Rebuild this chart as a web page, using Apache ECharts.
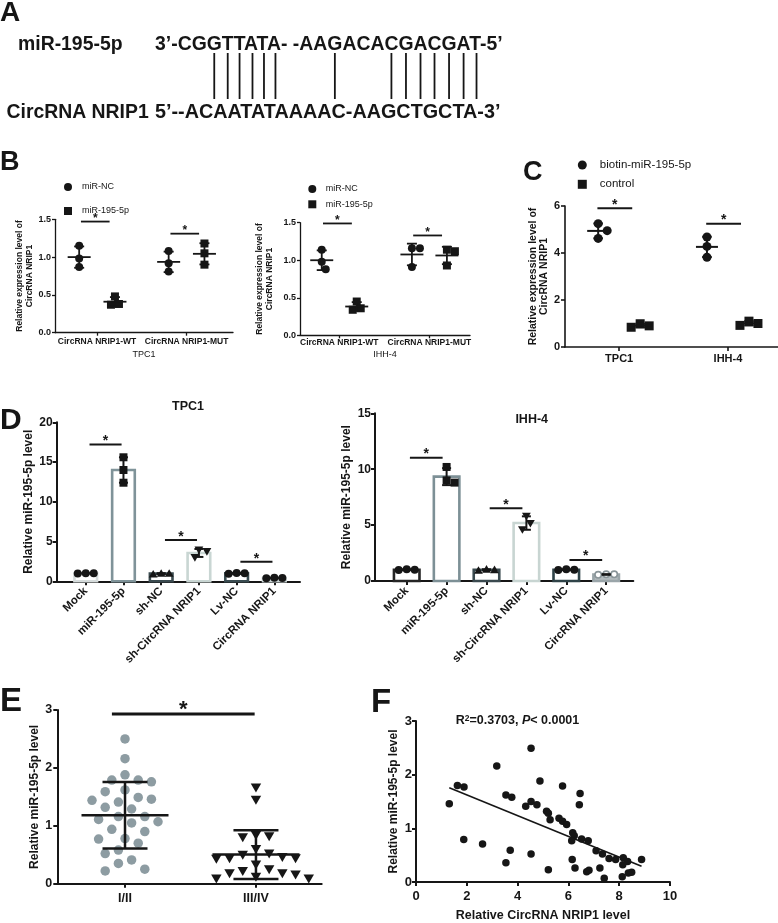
<!DOCTYPE html>
<html><head><meta charset="utf-8">
<script src="https://cdn.jsdelivr.net/npm/echarts@6/dist/echarts.min.js"></script>
<style>html,body{margin:0;padding:0;background:#fff}#c{width:778px;height:923px}</style>
</head><body><div id="c"></div>
<script>
// ================= DATA =================
// Panel A
const aMiRLabel = 'miR-195-5p';
const aCircLabel = 'CircRNA NRIP1';
const aMiR = '3’-CGGTTATA- -AAGACACGACGAT-5’';
const aCirc = '5’--ACAATATAAAAC-AAGCTGCTA-3’';
const aPairIdx = [5, 6, 7, 8, 9, 10, 16, 20, 21, 22, 23, 24, 25, 26];

// Panel B
const bCats = ['CircRNA NRIP1-WT', 'CircRNA NRIP1-MUT'];
const bSeries = ['miR-NC', 'miR-195-5p'];
const bTpcNC = [[1.15, 0.98, 0.87], [1.08, 0.92, 0.81]];
const bTpcMiR = [[0.48, 0.38, 0.37], [1.18, 1.05, 0.90]];
const bTpcSig = [1.47, 1.31];
const bIhhNC = [[1.14, 0.98, 0.88], [1.16, 1.16, 0.91]];
const bIhhMiR = [[0.45, 0.36, 0.34], [1.14, 1.12, 0.93]];
const bIhhSig = [1.49, 1.33];

// Panel C
const cCats = ['TPC1', 'IHH-4'];
const cSeries = ['biotin-miR-195-5p', 'control'];
const cBiotin = [[5.25, 4.95, 4.62], [4.68, 4.28, 3.82]];
const cControl = [[0.99, 0.90, 0.84], [1.10, 1.00, 0.92]];
const cSig = [5.9, 5.25];

// Panel D
const dCats = ['Mock', 'miR-195-5p', 'sh-NC', 'sh-CircRNA NRIP1', 'Lv-NC', 'CircRNA NRIP1'];
const dTpc = [[1.02, 0.98, 1.0], [15.6, 14.0, 12.4], [1.0, 0.9, 1.0], [3.95, 3.75, 3.0], [1.05, 1.0, 0.95], [0.45, 0.40, 0.38]];
const dTpcSig = [17.2, 5.2, 2.47];
const dIhh = [[1.05, 0.98, 1.0], [10.2, 9.0, 8.8], [1.0, 0.95, 1.05], [5.8, 5.15, 4.6], [1.05, 1.0, 0.98], [0.6, 0.6, 0.55]];
const dIhhSig = [11.03, 6.5, 1.88];
const dSigPairs = [[0, 1], [2, 3], [4, 5]];

// Panel E
const eCats = ['I/II', 'III/IV'];
const eStageI = [2.50, 2.16, 1.88, 1.79, 1.79, 1.76, 1.62, 1.59, 1.49, 1.46, 1.44, 1.41, 1.32, 1.29, 1.16, 1.16, 1.11, 1.07, 1.05, 0.94, 0.90, 0.78, 0.77, 0.70, 0.58, 0.52, 0.41, 0.35, 0.25, 0.22];
const eStageIII = [1.66, 1.45, 0.84, 0.82, 0.80, 0.60, 0.52, 0.50, 0.46, 0.44, 0.44, 0.43, 0.33, 0.25, 0.22, 0.18, 0.18, 0.16, 0.12, 0.09, 0.09];
const eSig = [2.93];

// Panel F
const fCirc = [1.31, 1.63, 1.89, 1.88, 2.62, 3.18, 3.54, 3.77, 3.54, 3.71, 4.32, 4.53, 4.53, 4.76, 4.88, 4.53, 5.14, 5.21, 5.28, 5.21, 5.77, 5.63, 5.77, 5.93, 6.46, 6.43, 6.17, 6.23, 6.13, 6.52, 6.78, 6.15, 6.26, 6.72, 6.81, 7.09, 7.34, 7.60, 7.86, 7.24, 7.41, 8.16, 8.33, 8.14, 8.12, 8.36, 8.49, 8.88];
const fMiR = [1.46, 1.80, 1.77, 0.79, 0.71, 2.16, 1.62, 1.58, 0.36, 0.59, 1.41, 1.50, 2.49, 1.44, 1.88, 0.52, 1.32, 1.28, 1.16, 0.23, 1.79, 1.19, 1.13, 1.07, 1.65, 1.44, 0.92, 0.86, 0.77, 0.80, 0.77, 0.42, 0.26, 0.19, 0.22, 0.58, 0.52, 0.44, 0.42, 0.26, 0.07, 0.45, 0.38, 0.32, 0.10, 0.17, 0.18, 0.42];

// ================= HELPERS =================
const FONT = 'Liberation Sans';
const INK = '#161616';
const mean = a => a.reduce((s, v) => s + v, 0) / a.length;
const sd = a => { const m = mean(a); return Math.sqrt(a.reduce((s, v) => s + (v - m) * (v - m), 0) / (a.length - 1)); };

function swarm(pix, collide, step) {
  const order = pix.map((p, i) => i).sort((a, b) => pix[a][1] - pix[b][1]);
  const placed = [], out = pix.map(p => p.slice());
  for (const i of order) {
    const [x, y] = pix[i];
    for (let k = 0; k < 400; k++) {
      const off = k === 0 ? 0 : (k % 2 ? 1 : -1) * Math.ceil(k / 2) * step;
      const cx = x + off;
      if (placed.every(([px, py]) => Math.hypot(px - cx, py - y) >= collide)) {
        out[i] = [cx, y]; placed.push([cx, y]); break;
      }
    }
  }
  return out;
}
function marker(shape, x, y, d, color) {
  const r = d / 2;
  switch (shape) {
    case 'circle': return { type: 'circle', shape: { cx: x, cy: y, r }, style: { fill: color } };
    case 'ring': return { type: 'circle', shape: { cx: x, cy: y, r: r - 0.8 }, style: { fill: '#fff', stroke: color, lineWidth: 1.6 } };
    case 'square': return { type: 'rect', shape: { x: x - r, y: y - r, width: d, height: d }, style: { fill: color } };
    case 'tri': return { type: 'polygon', shape: { points: [[x, y - r * 1.05], [x + r * 1.1, y + r * 0.85], [x - r * 1.1, y + r * 0.85]] }, style: { fill: color } };
    case 'tridown': return { type: 'polygon', shape: { points: [[x, y + r * 1.05], [x + r * 1.1, y - r * 0.85], [x - r * 1.1, y - r * 0.85]] }, style: { fill: color } };
  }
}
const seg = (x1, y1, x2, y2, w, c) => ({ type: 'line', shape: { x1, y1, x2, y2 }, style: { stroke: c || INK, lineWidth: w } });

function errBar(api, x, pts, o) {
  const m = mean(pts), s = sd(pts), ch = [];
  const c = api.coord([x, m]), t = api.coord([x, m + s]), b = api.coord([x, Math.max(0, m - s)]);
  if (o.meanW) ch.push(seg(c[0] - o.meanW / 2, c[1], c[0] + o.meanW / 2, c[1], o.lw));
  ch.push(seg(t[0], t[1], b[0], b[1], o.lw));
  ch.push(seg(t[0] - o.capW / 2, t[1], t[0] + o.capW / 2, t[1], o.lw));
  ch.push(seg(b[0] - o.capW / 2, b[1], b[0] + o.capW / 2, b[1], o.lw));
  return ch;
}

function dotSeries(o) {
  return {
    type: 'custom', name: o.name, xAxisIndex: o.gi, yAxisIndex: o.gi, z: 3,
    itemStyle: { color: INK },
    data: o.groups.map((p, i) => [i + o.off, mean(p)]), encode: { x: 0, y: 1 },
    renderItem: (params, api) => {
      const pts = o.groups[params.dataIndex], x = api.value(0);
      const pix = swarm(pts.map(v => api.coord([x, v])), o.d * 0.95, o.d / 2);
      const ch = pix.map(p => marker(o.shape, p[0], p[1], o.d, INK));
      return { type: 'group', children: ch.concat(errBar(api, x, pts, o)) };
    }
  };
}
function barSeries(o) {
  return {
    type: 'custom', xAxisIndex: o.gi, yAxisIndex: o.gi, z: 3,
    data: o.groups.map((p, i) => [i, mean(p)]), encode: { x: 0, y: 1 },
    renderItem: (params, api) => {
      const i = params.dataIndex, pts = o.groups[i], m = mean(pts);
      const tl = api.coord([i - o.w / 2, m]), br = api.coord([i + o.w / 2, 0]);
      const ch = [{ type: 'rect', shape: { x: tl[0], y: tl[1], width: br[0] - tl[0], height: br[1] - tl[1] },
        style: { fill: o.fills[i], stroke: o.strokes[i], lineWidth: o.blw } }];
      const pix = swarm(pts.map(v => api.coord([i, v])), o.d * 0.95, o.d / 2);
      pix.forEach(p => ch.push(marker(o.shapes[i], p[0], p[1], o.d, o.pcols[i])));
      return { type: 'group', children: ch.concat(errBar(api, i, pts, o)) };
    }
  };
}
function swarmSeries(o) {
  return {
    type: 'custom', xAxisIndex: o.gi, yAxisIndex: o.gi, z: 3,
    data: o.groups.map((p, i) => [i, mean(p)]), encode: { x: 0, y: 1 },
    renderItem: (params, api) => {
      const i = params.dataIndex, pts = o.groups[i];
      const pix = swarm(pts.map(v => api.coord([i, v])), o.collide[i], o.step);
      const ch = pix.map(p => marker(o.shapes[i], p[0], p[1], o.d, o.colors[i]));
      return { type: 'group', children: ch.concat(errBar(api, i, pts, o)) };
    }
  };
}
function sigSeries(o) {
  return {
    type: 'custom', xAxisIndex: o.gi, yAxisIndex: o.gi, z: 4, silent: true,
    data: o.ys.map((y, i) => [o.spans[i][0], o.spans[i][1], y]), encode: { x: [0, 1], y: 2 },
    renderItem: (params, api) => {
      const a = api.coord([api.value(0), api.value(2)]), b = api.coord([api.value(1), api.value(2)]);
      return { type: 'group', children: [seg(a[0], a[1], b[0], a[1], o.lw),
        { type: 'text', style: { text: '*', x: (a[0] + b[0]) / 2, y: a[1] - o.gap + 0.22 * o.fs, align: 'center', verticalAlign: 'middle',
          fontSize: o.fs, fontWeight: 'bold', fontFamily: FONT, fill: INK } }] };
    }
  };
}

function catX(gi, cats, min, max, o) {
  const idx = cats.map((_, i) => i);
  return {
    gridIndex: gi, type: 'value', min, max, splitLine: { show: false },
    axisLine: { show: true, onZero: false, lineStyle: { color: INK, width: o.aw } },
    axisTick: { show: true, customValues: idx, length: o.tl, lineStyle: { color: INK, width: o.aw } },
    axisLabel: { customValues: idx, formatter: v => cats[Math.round(v)] || '', color: INK, fontSize: o.fs, fontWeight: 'bold',
      fontFamily: FONT, margin: o.m, rotate: o.rot || 0, interval: 0 },
    name: o.name || '', nameLocation: 'middle', nameGap: o.ng || 0,
    nameTextStyle: { color: INK, fontSize: o.nfs || 9, fontFamily: FONT, fontWeight: o.nfw || 'normal' }
  };
}
function valY(gi, max, interval, o) {
  return {
    gridIndex: gi, type: 'value', min: 0, max, interval, splitLine: { show: false },
    axisLine: { show: true, onZero: false, lineStyle: { color: INK, width: o.aw } },
    axisTick: { show: true, length: o.tl, lineStyle: { color: INK, width: o.aw } },
    axisLabel: { color: INK, fontSize: o.fs, fontWeight: 'bold', fontFamily: FONT, margin: o.m, formatter: o.fmt },
    name: o.name, nameLocation: 'middle', nameRotate: 90, nameGap: o.ng,
    nameTextStyle: { color: INK, fontSize: o.nfs, fontWeight: 'bold', fontFamily: FONT, lineHeight: o.nlh, align: 'center' }
  };
}

// ================= PANEL A graphics =================
const aFontTop = 19.4, aFontBot = 19.8;
const mctx = document.createElement('canvas').getContext('2d');
mctx.font = 'bold ' + aFontTop + 'px "' + FONT + '"';
const seqX = 155;
function charCenter(str, i) { return seqX + mctx.measureText(str.slice(0, i)).width + mctx.measureText(str[i]).width / 2; }
const txt = (text, x, y, fs, extra) => Object.assign({ type: 'text', x, y, style: Object.assign({ text, fontSize: fs, fontWeight: 'bold', fontFamily: FONT, fill: INK, align: 'left', verticalAlign: 'middle' }, extra || {}) });
const graphics = [
  txt('A', 0, 13, 28), txt('B', 0, 162.5, 27), txt('C', 523, 172.5, 27), txt('D', 0, 421, 30), txt('E', 0, 701.5, 33), txt('F', 371, 702.5, 33),
  txt(aMiRLabel, 18, 45, 19.4), txt(aMiR, seqX, 45, aFontTop),
  txt(aCircLabel, 6.5, 113, 19.4), txt(aCirc, seqX, 113, aFontBot),
  txt('TPC1', 188, 407, 12.5, { align: 'center' }), txt('IHH-4', 531.7, 420, 12.5, { align: 'center' }),
  { type: 'text', x: 455.7, y: 721, style: { text: '{a|R}{s|2}{a|=0.3703, }{i|P}{a|< 0.0001}', verticalAlign: 'middle',
    rich: { a: { fontSize: 12.5, fontWeight: 'bold', fontFamily: FONT, fill: INK },
      s: { fontSize: 8.5, fontWeight: 'bold', fontFamily: FONT, fill: INK, verticalAlign: 'top', padding: [0, 0, 5, 0] },
      i: { fontSize: 12.5, fontWeight: 'bold', fontStyle: 'italic', fontFamily: FONT, fill: INK } } } }
];
aPairIdx.forEach(i => { const x = charCenter(aMiR, i); graphics.push({ type: 'line', shape: { x1: x, y1: 53, x2: x, y2: 99 }, style: { stroke: INK, lineWidth: 1.8 } }); });

// ================= PANEL F regression =================
const fmx = mean(fCirc), fmy = mean(fMiR);
let sxy = 0, sxx = 0;
fCirc.forEach((x, i) => { sxy += (x - fmx) * (fMiR[i] - fmy); sxx += (x - fmx) * (x - fmx); });
const fSlope = sxy / sxx, fInt = fmy - fSlope * fmx;
const fx0 = Math.min(...fCirc), fx1 = Math.max(...fCirc);

// ================= OPTION =================
const dTpcStroke = ['#d6dcdc', '#7f9399', '#3b4b50', '#c9d6d3', '#3a4c51', '#c9d3d3'];
const dTpcFill = ['#fff', '#fff', '#fff', '#fff', '#fff', '#fff'];
const dIhhStroke = ['#252525', '#7d9096', '#3a4a4f', '#c8d5d2', '#2f4348', '#9aa5a9'];
const dIhhFill = ['#fff', '#fff', '#fff', '#fff', '#fff', '#b3bbbe'];
const dShapes = ['circle', 'square', 'tri', 'tridown', 'circle', 'circle'];
const dIhhShapes = ['circle', 'square', 'tri', 'tridown', 'circle', 'ring'];
const dPcols = [INK, INK, INK, INK, INK, INK];
const dIhhPcols = [INK, INK, INK, INK, INK, '#8a9599'];

const legendBase = { orient: 'vertical', selectedMode: false, padding: 0 };
const option = {
  animation: false,
  grid: [
    { left: 55, top: 219.3, width: 178, height: 113.4 },
    { left: 300, top: 222.7, width: 170, height: 112.6 },
    { left: 565, top: 206, width: 213, height: 141 },
    { left: 56.7, top: 422.3, width: 243.3, height: 159 },
    { left: 375, top: 413.3, width: 258.3, height: 167.7 },
    { left: 57.3, top: 710, width: 264.4, height: 173.7 },
    { left: 416, top: 721, width: 254, height: 166.7 }
  ],
  xAxis: [
    catX(0, bCats, -0.47, 1.519, { aw: 1.3, tl: 3, fs: 8.5, m: 4, name: 'TPC1', ng: 17, nfs: 9 }),
    catX(1, bCats, -0.435, 1.45, { aw: 1.3, tl: 3, fs: 8.5, m: 3, name: 'IHH-4', ng: 15, nfs: 9 }),
    catX(2, cCats, -0.498, 1.46, { aw: 1.6, tl: 4, fs: 11, m: 6 }),
    catX(3, dCats, -0.77, 5.68, { aw: 2, tl: 4, fs: 11.5, m: 8, rot: 45 }),
    catX(4, dCats, -0.795, 5.68, { aw: 2, tl: 4, fs: 11.5, m: 8, rot: 45 }),
    catX(5, eCats, -0.517, 1.502, { aw: 2, tl: 4, fs: 12.5, m: 8 }),
    { gridIndex: 6, type: 'value', min: 0, max: 10, interval: 2, splitLine: { show: false },
      axisLine: { show: true, onZero: false, lineStyle: { color: INK, width: 2 } },
      axisTick: { show: true, length: 4, lineStyle: { color: INK, width: 2 } },
      axisLabel: { color: INK, fontSize: 13, fontWeight: 'bold', fontFamily: FONT, margin: 8 },
      name: 'Relative CircRNA NRIP1 level', nameLocation: 'middle', nameGap: 27,
      nameTextStyle: { color: INK, fontSize: 12.5, fontWeight: 'bold', fontFamily: FONT } }
  ],
  yAxis: [
    valY(0, 1.5, 0.5, { aw: 1.3, tl: 3, fs: 9, m: 4, fmt: v => v.toFixed(1), name: 'Relative expression level of\nCircRNA NRIP1', ng: 18, nfs: 8.5, nlh: 10 }),
    valY(1, 1.5, 0.5, { aw: 1.3, tl: 3, fs: 9, m: 4, fmt: v => v.toFixed(1), name: 'Relative expression level of\nCircRNA NRIP1', ng: 25, nfs: 8.5, nlh: 10 }),
    valY(2, 6, 2, { aw: 1.6, tl: 4, fs: 11, m: 5, name: 'Relative expression level of\nCircRNA NRIP1', ng: 16, nfs: 10.5, nlh: 10.5 }),
    valY(3, 20, 5, { aw: 2, tl: 4, fs: 12, m: 4, name: 'Relative miR-195-5p level', ng: 18, nfs: 12, nlh: 14 }),
    valY(4, 15, 5, { aw: 2, tl: 4, fs: 12, m: 4, name: 'Relative miR-195-5p level', ng: 19, nfs: 12, nlh: 14 }),
    valY(5, 3, 1, { aw: 2, tl: 4, fs: 12.5, m: 5, name: 'Relative miR-195-5p level', ng: 15, nfs: 12, nlh: 14 }),
    valY(6, 3, 1, { aw: 2, tl: 4, fs: 13, m: 4, name: 'Relative miR-195-5p level', ng: 15, nfs: 12, nlh: 14 })
  ],
  legend: [
    Object.assign({ left: 64, top: 182, itemWidth: 8, itemHeight: 8, itemGap: 14,
      data: [{ name: bSeries[0], icon: 'circle' }, { name: bSeries[1], icon: 'rect' }],
      textStyle: { fontSize: 9, lineHeight: 10, fontFamily: FONT, color: INK, padding: [0, 0, 0, 5] } }, legendBase),
    Object.assign({ left: 308.3, top: 184, itemWidth: 8, itemHeight: 8, itemGap: 5.3,
      data: [{ name: bSeries[0], icon: 'circle' }, { name: bSeries[1], icon: 'rect' }],
      textStyle: { fontSize: 9, lineHeight: 10, fontFamily: FONT, color: INK, padding: [0, 0, 0, 4.4] } }, legendBase),
    Object.assign({ left: 577.8, top: 159, itemWidth: 9, itemHeight: 9, itemGap: 7.3,
      data: [{ name: cSeries[0], icon: 'circle' }, { name: cSeries[1], icon: 'rect' }],
      textStyle: { fontSize: 11.5, lineHeight: 12, fontFamily: FONT, color: INK, padding: [0, 0, 0, 8] } }, legendBase)
  ],
  graphic: { elements: graphics },
  series: [
    dotSeries({ name: bSeries[0], gi: 0, groups: bTpcNC, off: -0.2, shape: 'circle', d: 8, capW: 10, meanW: 23, lw: 1.8 }),
    dotSeries({ name: bSeries[1], gi: 0, groups: bTpcMiR, off: 0.2, shape: 'square', d: 8, capW: 10, meanW: 23, lw: 1.8 }),
    sigSeries({ gi: 0, ys: bTpcSig, spans: bTpcSig.map((_, i) => [i - 0.18, i + 0.14]), lw: 1.8, fs: 12, gap: 5.5 }),
    dotSeries({ name: bSeries[0], gi: 1, groups: bIhhNC, off: -0.194, shape: 'circle', d: 8, capW: 10, meanW: 23, lw: 1.8 }),
    dotSeries({ name: bSeries[1], gi: 1, groups: bIhhMiR, off: 0.194, shape: 'square', d: 8, capW: 10, meanW: 23, lw: 1.8 }),
    sigSeries({ gi: 1, ys: bIhhSig, spans: bIhhSig.map((_, i) => [i - 0.18, i + 0.14]), lw: 1.8, fs: 12, gap: 5.3 }),
    dotSeries({ name: cSeries[0], gi: 2, groups: cBiotin, off: -0.193, shape: 'circle', d: 9, capW: 9.5, meanW: 22, lw: 2 }),
    dotSeries({ name: cSeries[1], gi: 2, groups: cControl, off: 0.193, shape: 'square', d: 9, capW: 9.5, meanW: 22, lw: 2 }),
    sigSeries({ gi: 2, ys: cSig, spans: cSig.map((_, i) => [i - 0.2, i + 0.12]), lw: 2, fs: 14, gap: 6.6 }),
    barSeries({ gi: 3, groups: dTpc, w: 0.6, strokes: dTpcStroke, fills: dTpcFill, shapes: dShapes, pcols: dPcols, d: 8, capW: 9, lw: 2, blw: 2.6 }),
    sigSeries({ gi: 3, ys: dTpcSig, spans: dSigPairs.map(p => [p[0] + 0.1, p[1] - 0.05]), lw: 2, fs: 14, gap: 6 }),
    barSeries({ gi: 4, groups: dIhh, w: 0.64, strokes: dIhhStroke, fills: dIhhFill, shapes: dIhhShapes, pcols: dIhhPcols, d: 8, capW: 9, lw: 2, blw: 2.6 }),
    sigSeries({ gi: 4, ys: dIhhSig, spans: dSigPairs.map(p => [p[0] + 0.08, p[1] - 0.1]), lw: 2, fs: 14, gap: 6.5 }),
    swarmSeries({ gi: 5, groups: [eStageI, eStageIII], shapes: ['circle', 'tridown'], colors: ['#8d9ca2', INK], d: 9.5, collide: [13, 10.5], step: 6.6, capW: 45, meanW: 87, lw: 2.5 }),
    sigSeries({ gi: 5, ys: eSig, spans: [[-0.1, 0.99]], lw: 3, fs: 22, gap: 9.3 }),
    { type: 'scatter', xAxisIndex: 6, yAxisIndex: 6, symbol: 'circle', symbolSize: 7.5, itemStyle: { color: INK, opacity: 1 }, z: 3,
      data: fCirc.map((x, i) => [x, fMiR[i]]) },
    { type: 'line', xAxisIndex: 6, yAxisIndex: 6, symbol: 'none', lineStyle: { color: INK, width: 1.6 }, z: 2,
      data: [[fx0, fInt + fSlope * fx0], [fx1, fInt + fSlope * fx1]] }
  ]
};
const chart = echarts.init(document.getElementById('c'), null, { renderer: 'canvas' });
chart.setOption(option);
</script></body></html>
